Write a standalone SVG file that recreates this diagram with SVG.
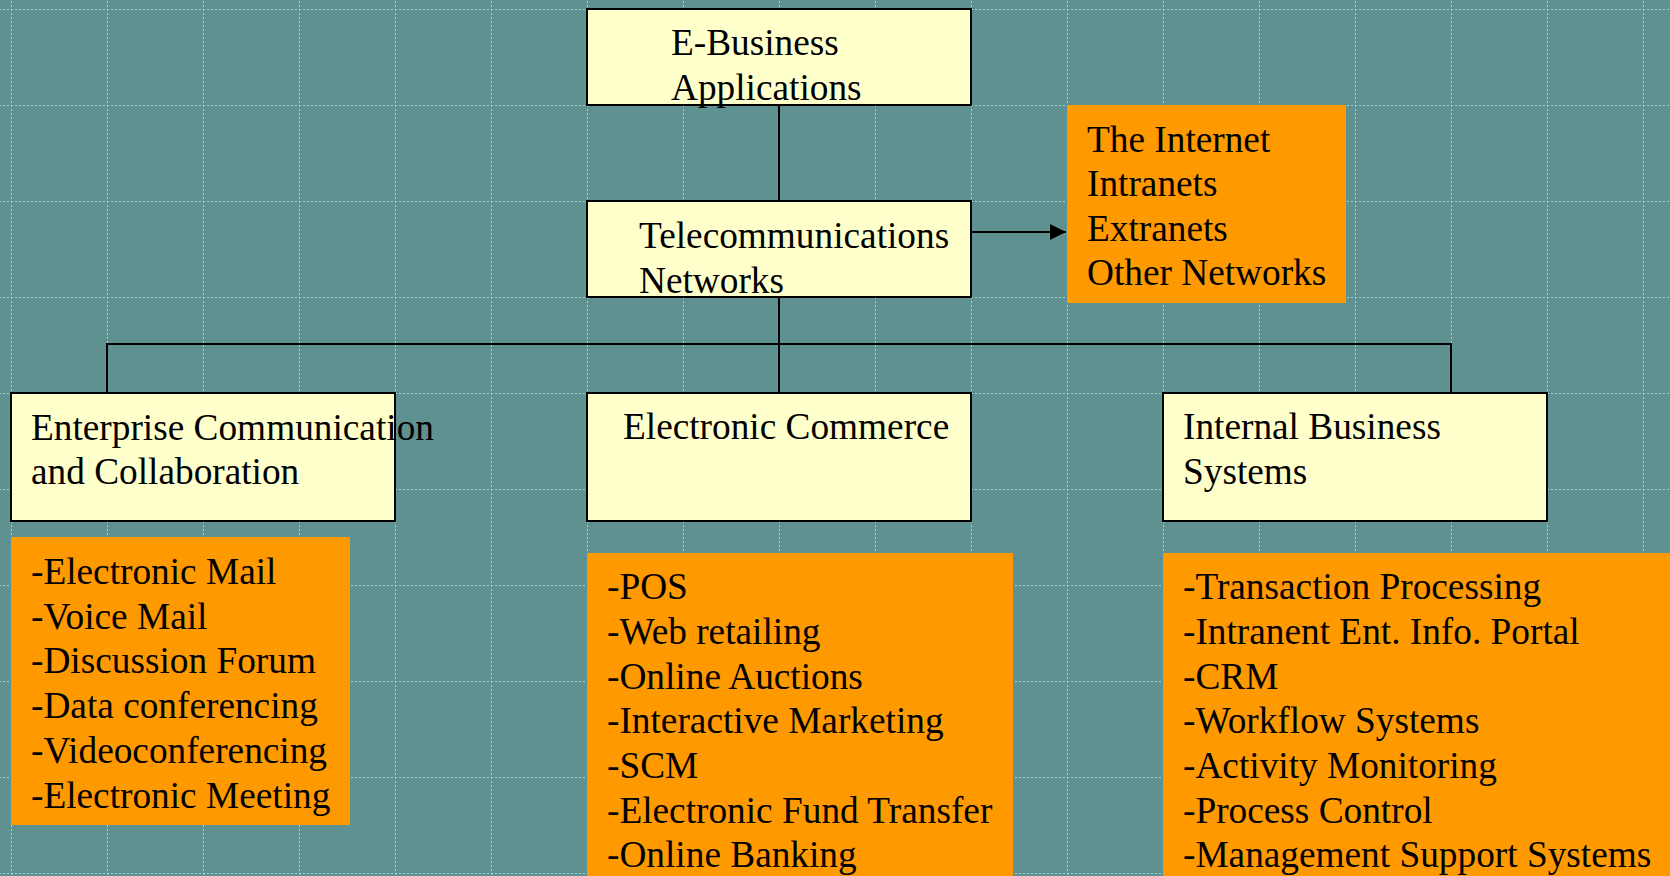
<svg xmlns="http://www.w3.org/2000/svg" width="1670" height="876" viewBox="0 0 1670 876">
<style>
  .bg { fill: #5f9191; }
  .grid { stroke: #a3d6d6; stroke-width: 1; stroke-dasharray: 2 2; fill: none; }
  .node { fill: #ffffcc; stroke: #000; stroke-width: 2; }
  .list { fill: #ff9900; stroke: none; }
  .t { font-family: "Liberation Serif", "Times New Roman", serif; font-size: 37.3px; fill: #000; }
  .conn { stroke: #000; stroke-width: 2; fill: none; }
</style>
<defs>
  <pattern id="gridpat" x="11" y="9" width="96" height="96" patternUnits="userSpaceOnUse">
    <line class="grid" x1="0.5" y1="0" x2="0.5" y2="96"/>
    <line class="grid" x1="0" y1="0.5" x2="96" y2="0.5"/>
  </pattern>
  <marker id="arrow" viewBox="0 0 16 16" refX="16" refY="8" markerWidth="16" markerHeight="16" markerUnits="userSpaceOnUse" orient="auto">
    <path d="M0,0 L16,8 L0,16 Z" fill="#000"/>
  </marker>
</defs>
<rect class="bg" x="0" y="0" width="1670" height="876"/>
<rect x="0" y="0" width="1670" height="876" fill="url(#gridpat)"/>

<g id="connectors">
  <line class="conn" x1="779" y1="105" x2="779" y2="201"/>
  <line class="conn" x1="779" y1="297" x2="779" y2="393"/>
  <polyline class="conn" points="107,393 107,344 1451,344 1451,393"/>
  <line class="conn" x1="971" y1="232" x2="1066" y2="232" marker-end="url(#arrow)"/>
</g>

<g id="ebusiness">
  <rect class="node" x="587" y="9" width="384" height="96"/>
  <text class="t" x="671" y="55">E-Business</text>
  <text class="t" x="671" y="100">Applications</text>
</g>

<g id="telecom">
  <rect class="node" x="587" y="201" width="384" height="96"/>
  <text class="t" x="639" y="247.5">Telecommunications</text>
  <text class="t" x="639" y="292.5">Networks</text>
</g>

<g id="networks">
  <rect class="list" x="1067" y="105" width="279" height="198"/>
  <text class="t" x="1087" y="151.5">The Internet</text>
  <text class="t" x="1087" y="196">Intranets</text>
  <text class="t" x="1087" y="240.5">Extranets</text>
  <text class="t" x="1087" y="285">Other Networks</text>
</g>

<g id="enterprise">
  <rect class="node" x="11" y="393" width="384" height="128"/>
  <text class="t" x="31" y="439.5">Enterprise Communication</text>
  <text class="t" x="31" y="484">and Collaboration</text>
</g>

<g id="ecommerce">
  <rect class="node" x="587" y="393" width="384" height="128"/>
  <text class="t" x="623" y="439">Electronic Commerce</text>
</g>

<g id="internal">
  <rect class="node" x="1163" y="393" width="384" height="128"/>
  <text class="t" x="1183" y="439">Internal Business</text>
  <text class="t" x="1183" y="484">Systems</text>
</g>

<g id="enterprise-list">
  <rect class="list" x="11" y="537" width="339" height="288"/>
  <text class="t" x="31" y="583.5">-Electronic Mail</text>
  <text class="t" x="31" y="628.5">-Voice Mail</text>
  <text class="t" x="31" y="673">-Discussion Forum</text>
  <text class="t" x="31" y="717.5">-Data conferencing</text>
  <text class="t" x="31" y="762.5">-Videoconferencing</text>
  <text class="t" x="31" y="807.5">-Electronic Meeting</text>
</g>

<g id="ecommerce-list">
  <rect class="list" x="587" y="553" width="426" height="323"/>
  <text class="t" x="607" y="599">-POS</text>
  <text class="t" x="607" y="643.5">-Web retailing</text>
  <text class="t" x="607" y="688.5">-Online Auctions</text>
  <text class="t" x="607" y="733">-Interactive Marketing</text>
  <text class="t" x="607" y="777.5">-SCM</text>
  <text class="t" x="607" y="822.5">-Electronic Fund Transfer</text>
  <text class="t" x="607" y="867">-Online Banking</text>
</g>

<g id="internal-list">
  <rect class="list" x="1163" y="553" width="507" height="323"/>
  <text class="t" x="1183" y="599">-Transaction Processing</text>
  <text class="t" x="1183" y="643.5">-Intranent Ent. Info. Portal</text>
  <text class="t" x="1183" y="688.5">-CRM</text>
  <text class="t" x="1183" y="733">-Workflow Systems</text>
  <text class="t" x="1183" y="777.5">-Activity Monitoring</text>
  <text class="t" x="1183" y="822.5">-Process Control</text>
  <text class="t" x="1183" y="867">-Management Support Systems</text>
</g>
</svg>
